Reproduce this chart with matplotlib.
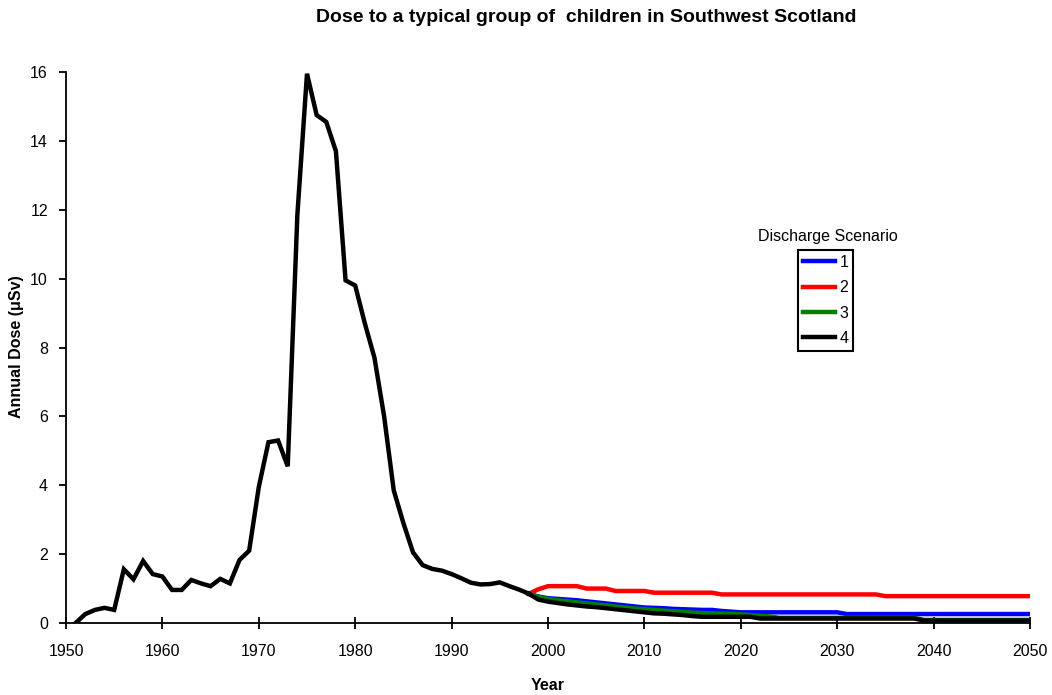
import matplotlib
matplotlib.use("Agg")
import matplotlib.pyplot as plt
import numpy as np

plt.rcParams['font.family'] = ['Liberation Sans', 'DejaVu Sans']

# Measured annual dose, common to all scenarios (1951-1998)
hist_years = list(range(1951, 1999))
hist_dose = [0.0, 0.26, 0.38, 0.44, 0.38, 1.56, 1.27, 1.80, 1.42, 1.35,
             0.96, 0.96, 1.25, 1.15, 1.07, 1.28, 1.15, 1.83, 2.10, 3.95,
             5.25, 5.30, 4.55, 11.85, 15.95, 14.75, 14.55, 13.70, 9.95, 9.80,
             8.70, 7.70, 6.00, 3.85, 2.90, 2.05, 1.68, 1.57, 1.52, 1.42,
             1.30, 1.17, 1.12, 1.13, 1.18, 1.07, 0.97, 0.85]

# Projected dose for each discharge scenario (1998-2050)
proj_years = list(range(1998, 2051))
scenario_1 = ([0.85, 0.77, 0.72, 0.70, 0.68, 0.66, 0.63, 0.60, 0.57, 0.54,
               0.51, 0.48, 0.45, 0.44, 0.43, 0.41, 0.40, 0.39, 0.38, 0.38,
               0.35, 0.33] + [0.31] * 11 + [0.26] * 20)
scenario_2 = ([0.85, 0.98] + [1.07] * 4 + [1.00] * 3 + [0.93] * 4
              + [0.88] * 7 + [0.83] * 17 + [0.78] * 16)
scenario_3 = ([0.85, 0.76, 0.70, 0.66, 0.63, 0.60, 0.57, 0.54, 0.51, 0.48,
               0.45, 0.42, 0.40, 0.38, 0.36, 0.34, 0.32, 0.30, 0.29, 0.28,
               0.27, 0.26, 0.25, 0.23, 0.21, 0.19] + [0.15] * 15 + [0.09] * 12)
scenario_4 = ([0.85, 0.68, 0.62, 0.58, 0.54, 0.51, 0.48, 0.46, 0.43, 0.40,
               0.37, 0.34, 0.31, 0.28, 0.27, 0.25, 0.23, 0.20]
              + [0.18] * 6 + [0.13] * 17 + [0.07] * 12)

scenario_labels = ['1', '2', '3', '4']
scenario_colors = ['#0000ff', '#ff0000', '#008000', '#000000']

fig = plt.figure(figsize=(10.52, 6.95), dpi=100)
ax = fig.add_axes([66 / 1052, 1 - 623 / 695, (1030 - 66) / 1052, (623 - 72) / 695])

lines = []
for vals, lab, col in zip([scenario_1, scenario_2, scenario_3, scenario_4],
                          scenario_labels, scenario_colors):
    ln, = ax.plot(proj_years, vals, color=col, lw=3.2, label=lab,
                  solid_joinstyle='miter', zorder=3)
    lines.append(ln)
ax.plot(hist_years, hist_dose, color='black', lw=3.2, zorder=4,
        solid_joinstyle='miter')

ax.set_xlim(1950, 2050)
ax.set_ylim(0, 16)
ax.set_xticks(np.arange(1950, 2051, 10))
ax.set_yticks(np.arange(0, 17, 2))
for s in ['top', 'right']:
    ax.spines[s].set_visible(False)
for s in ['left', 'bottom']:
    ax.spines[s].set_linewidth(1.3)
ax.tick_params(axis='y', direction='out', length=5, width=1.3, labelsize=11.5, pad=8)
ax.tick_params(axis='x', direction='inout', length=8, width=1.3, labelsize=11.5, pad=11)

ax.set_xlabel('Year', fontsize=11.5, fontweight='bold', labelpad=14)
fig.text(17 / 1052, 1 - 347 / 695, 'Annual Dose (μSv)', rotation=90,
         ha='center', va='center', fontsize=11.5, fontweight='bold')
fig.text(586 / 1052, 1 - 17 / 695, 'Dose to a typical group of  children in Southwest Scotland',
         ha='center', va='center', fontsize=14, fontweight='bold')

fig.text(828 / 1052, 1 - 236 / 695, 'Discharge Scenario', ha='center', va='center',
         fontsize=11.5)
leg = ax.legend(handles=lines, loc='upper left',
                bbox_to_anchor=(798 / 1052, 1 - 250 / 695),
                bbox_transform=fig.transFigure, borderaxespad=0,
                fontsize=11.5, handlelength=2.0, handletextpad=0.3,
                labelspacing=0.65, borderpad=0.3, fancybox=False,
                frameon=True, framealpha=1)
leg.get_frame().set_edgecolor('black')
leg.get_frame().set_linewidth(1.5)

fig.savefig('out.png', dpi=100)
